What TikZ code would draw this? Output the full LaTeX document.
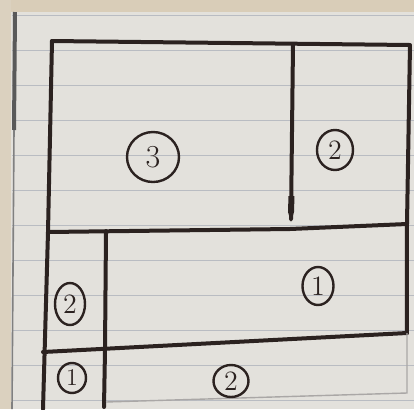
\documentclass[tikz,border=0pt]{standalone}
\usetikzlibrary{shapes.geometric}
\begin{document}
\begin{tikzpicture}[x=0.5pt,y=-0.5pt,
  ink/.style={draw=inkc,line width=2pt,line cap=round,line join=round},
  faint/.style={draw=inkc!40,line width=0.7pt},
  rule/.style={draw=rulec,line width=0.5pt},
  num/.style={ellipse,draw=inkc,line width=1.2pt,inner sep=0pt,font=\fontsize{14}{14}\selectfont,text=inkc}]
\definecolor{inkc}{HTML}{2B2220}
\definecolor{paper}{HTML}{E3E1DC}
\definecolor{rulec}{HTML}{B9BCC2}
\definecolor{tan}{HTML}{D9CDB8}
\useasboundingbox (0,0) rectangle (414,409);
% paper
\fill[paper] (0,0) rectangle (414,409);
\fill[tan] (0,0) rectangle (414,12);
\fill[tan!80!paper] (0,0) rectangle (11,409);
\foreach \y in {15,50,85,120,155,190,225,260,295,330,365,400}
  \draw[rule] (12,\y) -- (414,\y);
\draw[draw=gray!70!black,line width=2pt] (15,12) -- (14,130);
\draw[draw=gray,line width=0.8pt] (14,130) -- (12,409);
% sketch lines
\coordinate (tl) at (52,41);
\coordinate (tr) at (410,45);
\coordinate (dt) at (293,45);
\coordinate (db) at (291,219);
\coordinate (ml) at (48,232);
\coordinate (mm) at (290,229);
\coordinate (mr) at (407,224);
\coordinate (sl) at (106,231);
\coordinate (sm) at (105,350);
\coordinate (sb) at (104,407);
\coordinate (ll) at (43,352);
\coordinate (lr) at (407,333);
\coordinate (bl) at (43,409);
\coordinate (br) at (407,393);
\coordinate (bb) at (106,402);
\draw[ink] (tl) -- (tr) -- (mr) -- (lr);
\draw[ink] (tl) -- (ml) -- (bl);
\draw[ink] (dt) -- (db);
\fill[inkc] (288.5,196) -- (294.5,196) -- (294,212) -- (291,222) -- (288,212) -- cycle;
\draw[ink] (ml) -- (mm) -- (mr);
\draw[ink] (sl) -- (sm) -- (sb);
\draw[ink] (ll) -- (lr);
\draw[faint] (lr) -- (br) -- (bb);
% labels
\node[num,minimum width=26pt,minimum height=25pt,font=\fontsize{16}{16}\selectfont] (n3) at (153,157) {3};
\node[num,minimum width=18pt,minimum height=20pt] (n2a) at (335,150) {2};
\node[num,minimum width=15.5pt,minimum height=19pt] (n1a) at (318,286) {1};
\node[num,minimum width=15pt,minimum height=21pt] (n2b) at (70,304) {2};
\node[num,minimum width=14pt,minimum height=15pt,font=\fontsize{12}{12}\selectfont] (n1b) at (72,378) {1};
\node[num,minimum width=17.5pt,minimum height=16pt] (n2c) at (231,381) {2};
\end{tikzpicture}
\end{document}
